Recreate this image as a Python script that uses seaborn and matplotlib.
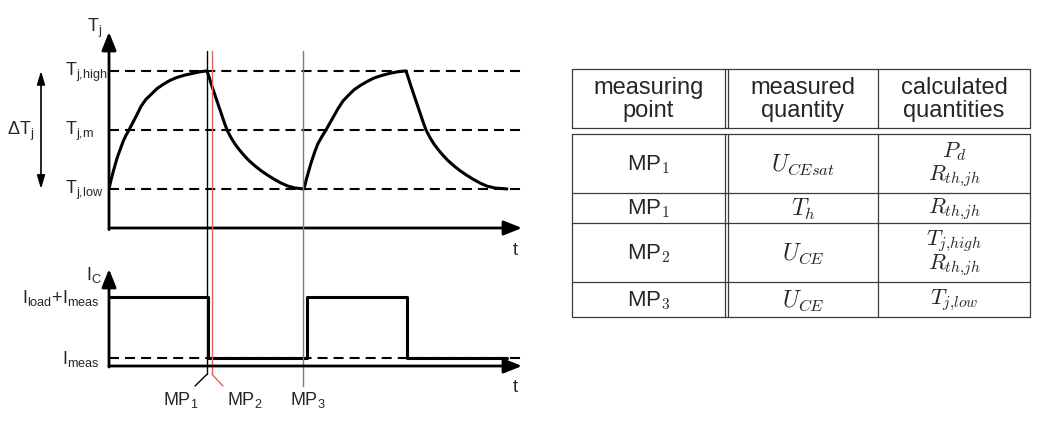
import numpy as np
import pandas as pd
import matplotlib.pyplot as plt
import seaborn as sns

# ---- data ----
# time in arbitrary units (1 unit ~ one heating phase), Tj normalised: low = 0, m = 0.5, high = 1
t_rise1 = [0.00, 0.02, 0.04, 0.06, 0.08, 0.11, 0.14, 0.17, 0.20, 0.24, 0.28, 0.32, 0.37,
           0.42, 0.48, 0.54, 0.61, 0.68, 0.76, 0.84, 0.91, 0.98]
tj_rise1 = [0.00, 0.075, 0.14, 0.20, 0.26, 0.33, 0.40, 0.455, 0.50, 0.565, 0.63, 0.70, 0.76,
            0.80, 0.85, 0.885, 0.92, 0.945, 0.965, 0.98, 0.993, 1.00]
t_fall1 = [1.00, 1.03, 1.06, 1.09, 1.12, 1.15, 1.18, 1.22, 1.26, 1.30, 1.35, 1.40, 1.46,
           1.52, 1.58, 1.65, 1.72, 1.79, 1.86, 1.95]
tj_fall1 = [0.95, 0.87, 0.795, 0.72, 0.645, 0.57, 0.50, 0.435, 0.38, 0.335, 0.285, 0.24, 0.195,
            0.155, 0.12, 0.083, 0.05, 0.024, 0.008, 0.00]
t_rise2 = [1.97, 1.99, 2.01, 2.03, 2.06, 2.09, 2.13, 2.17, 2.21, 2.25, 2.29, 2.34, 2.39,
           2.45, 2.51, 2.58, 2.65, 2.73, 2.81, 2.89, 2.97]
tj_rise2 = [0.07, 0.13, 0.19, 0.245, 0.32, 0.385, 0.445, 0.50, 0.56, 0.62, 0.68, 0.745, 0.79,
            0.84, 0.875, 0.91, 0.94, 0.962, 0.98, 0.993, 1.00]
t_fall2 = [2.99, 3.02, 3.05, 3.08, 3.11, 3.14, 3.17, 3.21, 3.25, 3.29, 3.34, 3.39, 3.45,
           3.51, 3.57, 3.64, 3.71, 3.78, 3.86, 3.98]
tj_fall2 = [0.95, 0.87, 0.795, 0.72, 0.645, 0.57, 0.50, 0.435, 0.38, 0.335, 0.285, 0.24, 0.195,
            0.155, 0.12, 0.083, 0.05, 0.024, 0.008, 0.00]

tj_levels = [0.0, 0.5, 1.0]
tj_level_labels = [r'T$_{\mathregular{j{,}low}}$', r'T$_{\mathregular{j{,}m}}$',
                   r'T$_{\mathregular{j{,}high}}$']

# collector current: load pulses on top of the measuring current
pulse_t = [0.00, 0.99, 0.99, 1.98, 1.98, 2.98, 2.98, 3.98]
pulse_i = [1.00, 1.00, 0.12, 0.12, 1.00, 1.00, 0.12, 0.12]
i_levels = [0.12, 1.00]
i_level_labels = [r'I$_{\mathregular{meas}}$', r'I$_{\mathregular{load}}$+I$_{\mathregular{meas}}$']

# measuring points
mp_t = [0.98, 1.03, 1.94]
mp_names = [r'MP$_{\mathregular{1}}$', r'MP$_{\mathregular{2}}$', r'MP$_{\mathregular{3}}$']
mp_colors = ['black', '#e0655f', '#5b82b0']

# table
table_header = ['measuring\npoint', 'measured\nquantity', 'calculated\nquantities']
table_mp = ['MP$_1$', 'MP$_1$', 'MP$_2$', 'MP$_3$']
table_measured = [r'$U_{CEsat}$', r'$T_h$', r'$U_{CE}$', r'$U_{CE}$']
table_calculated = [[r'$P_d$', r'$R_{th{,}jh}$'], [r'$R_{th{,}jh}$'],
                    [r'$T_{j{,}high}$', r'$R_{th{,}jh}$'], [r'$T_{j{,}low}$']]

sns.set_style('white')
plt.rcParams['font.family'] = ['Liberation Sans', 'DejaVu Sans']

W, H = 1038, 431
fig = plt.figure(figsize=(W / 100, H / 100), dpi=100)


def box(l, t, r, b):
    return [l / W, 1 - b / H, (r - l) / W, (b - t) / H]


arrow_kw = dict(arrowstyle='-|>,head_length=0.55,head_width=0.22', color='black',
                lw=2, mutation_scale=20, shrinkA=0, shrinkB=0)
dash_kw = dict(color='black', lw=1.5, dashes=(4.8, 2.9))

# ---- junction temperature ----
ax_t = fig.add_axes(box(109, 20, 529, 229))
ax_t.set_xlim(0, 4.2)
ax_t.set_ylim(-0.331, 1.44)

for lev, lab in zip(tj_levels, tj_level_labels):
    ax_t.plot([0, 4.15], [lev, lev], **dash_kw)
    ax_t.text(-0.44, lev, lab, ha='left', va='center', fontsize=13, clip_on=False)

tj = pd.DataFrame({'t': t_rise1 + t_fall1 + t_rise2 + t_fall2,
                   'Tj': tj_rise1 + tj_fall1 + tj_rise2 + tj_fall2})
sns.lineplot(data=tj, x='t', y='Tj', ax=ax_t, color='black', lw=2.2,
             sort=False, estimator=None, solid_joinstyle='round')
ax_t.set_axis_off()

ax_t.annotate('', xy=(4.13, -0.331), xytext=(0, -0.331), arrowprops=arrow_kw, annotation_clip=False)
ax_t.annotate('', xy=(0, 1.33), xytext=(0, -0.345), arrowprops=arrow_kw, annotation_clip=False)
ax_t.text(-0.14, 1.37, r'T$_{\mathregular{j}}$', ha='center', va='center', fontsize=13)
ax_t.text(4.06, -0.51, 't', ha='center', va='center', fontsize=13, clip_on=False)

ax_t.annotate('', xy=(-0.68, 1.0), xytext=(-0.68, 0.0), annotation_clip=False,
              arrowprops=dict(arrowstyle='<|-|>,head_length=0.5,head_width=0.15', color='black',
                              lw=1.2, mutation_scale=16, shrinkA=0, shrinkB=0))
ax_t.text(-0.88, 0.5, 'ΔT$_{\\mathregular{j}}$', ha='center', va='center', fontsize=13,
          clip_on=False)

# ---- collector current ----
ax_b = fig.add_axes(box(109, 262, 529, 367))
ax_b.set_xlim(0, 4.2)
ax_b.set_ylim(0, 1.522)

for lev, lab in zip(i_levels, i_level_labels):
    if lev < 0.5:
        ax_b.plot([0, 4.15], [lev, lev], **dash_kw)
    ax_b.text(-0.09, lev, lab, ha='right', va='center', fontsize=13, clip_on=False)

sns.lineplot(x=pulse_t, y=pulse_i, ax=ax_b, color='black', lw=2.2, sort=False, estimator=None)
ax_b.set_axis_off()

ax_b.annotate('', xy=(4.13, 0), xytext=(0, 0), arrowprops=arrow_kw, annotation_clip=False)
ax_b.annotate('', xy=(0, 1.406), xytext=(0, -0.015), arrowprops=arrow_kw, annotation_clip=False)
ax_b.text(-0.15, 1.34, r'I$_{\mathregular{C}}$', ha='center', va='center', fontsize=13, clip_on=False)
ax_b.text(4.06, -0.30, 't', ha='center', va='center', fontsize=13, clip_on=False)

# measuring point markers, running through both diagrams
label_t = [0.72, 1.36, 1.99]
end_t = [0.86, 1.14, 1.94]
for x, xe, xl, name, c in zip(mp_t, end_t, label_t, mp_names, mp_colors):
    ax_b.plot([x, x], [-0.12, 4.565], color=c, lw=1.0, clip_on=False)
    ax_b.plot([x, xe], [-0.12, -0.29], color=c, lw=1.0, clip_on=False)
    ax_b.text(xl, -0.48, name, ha='center', va='center', fontsize=13, clip_on=False)

# ---- table ----
ax_tab = fig.add_axes(box(560, 60, 1038, 330))
ax_tab.set_xlim(560, 1038)
ax_tab.set_ylim(330, 60)
ax_tab.set_axis_off()

x0, x1 = 572, 1030
col_lines = [725, 728, 878]
col_mid = [648.5, 803, 954]
head_top, head_bot = 70, 129
row_lines = [135, 194, 224, 283, 318]
grid_kw = dict(color='#3a3a3a', lw=0.9)

for top, bot in [(head_top, head_bot), (row_lines[0], row_lines[-1])]:
    ax_tab.plot([x0, x1, x1, x0, x0], [top, top, bot, bot, top], **grid_kw)
    for cx in col_lines:
        ax_tab.plot([cx, cx], [top, bot], **grid_kw)
for ry in row_lines[1:-1]:
    ax_tab.plot([x0, x1], [ry, ry], **grid_kw)

for cx, txt in zip(col_mid, table_header):
    ax_tab.text(cx, (head_top + head_bot) / 2, txt, ha='center', va='center', fontsize=17,
                linespacing=1.1)

for i in range(len(table_mp)):
    cy = (row_lines[i] + row_lines[i + 1]) / 2
    ax_tab.text(col_mid[0], cy, table_mp[i], ha='center', va='center', fontsize=16,
                math_fontfamily='cm')
    ax_tab.text(col_mid[1], cy, table_measured[i], ha='center', va='center', fontsize=17,
                math_fontfamily='cm')
    calc = table_calculated[i]
    offs = [0] if len(calc) == 1 else [-12.5, 11.5]
    for dy, txt in zip(offs, calc):
        ax_tab.text(col_mid[2], cy + dy, txt, ha='center', va='center', fontsize=16,
                    math_fontfamily='cm')

fig.savefig('out.png', dpi=100)
